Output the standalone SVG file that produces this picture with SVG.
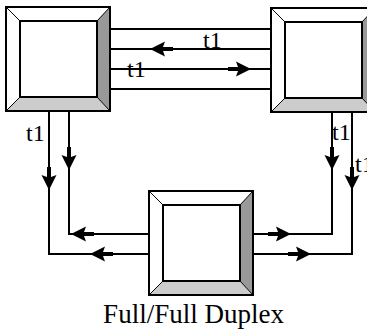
<svg xmlns="http://www.w3.org/2000/svg" xmlns:xlink="http://www.w3.org/1999/xlink" width="367" height="333" viewBox="0 0 367 333">
<style>
.wire{fill:none;stroke:#000;stroke-width:2}
.lbl{font-family:"Liberation Serif","Times New Roman",serif;font-size:24px;fill:#000}
.title{font-family:"Liberation Serif","Times New Roman",serif;font-size:27px;fill:#000}
.edge{stroke:#000;stroke-width:2;fill:none}
.diag{stroke:#000;stroke-width:1}
.ah{fill:#000}
</style>
<defs>
<g id="box">
<rect x="0" y="0" width="104" height="104" fill="#fff"/>
<polygon points="0,0 104,0 91,14 14,14" fill="#fff"/>
<polygon points="0,0 14,14 14,90 0,104" fill="#fff"/>
<polygon points="104,0 104,104 91,90 91,14" fill="#999"/>
<polygon points="0,104 14,90 91,90 104,104" fill="#ccc"/>
<line class="diag" x1="0" y1="0" x2="14" y2="14"/>
<line class="diag" x1="104" y1="0" x2="91" y2="14"/>
<line class="diag" x1="0" y1="104" x2="14" y2="90"/>
<line class="diag" x1="104" y1="104" x2="91" y2="90"/>
<rect class="edge" x="14" y="14" width="77" height="76" fill="#fff"/>
<rect class="edge" x="0" y="0" width="104" height="104"/>
</g>
<path id="arr" class="ah" d="M0,0 L-15,-7.5 L-13,-2 L-23,-2 L-23,2 L-13,2 L-15,7.5 Z"/>
</defs>
<rect width="367" height="333" fill="#fff"/>
<g id="connectors">
<line class="wire" x1="110" y1="29" x2="271" y2="29"/>
<line class="wire" x1="110" y1="49" x2="271" y2="49"/>
<line class="wire" x1="110" y1="69" x2="271" y2="69"/>
<line class="wire" x1="110" y1="89" x2="271" y2="89"/>
<path class="wire" d="M49,111 V254 H149"/>
<path class="wire" d="M69,111 V234 H149"/>
<path class="wire" d="M332,111 V234 H252"/>
<path class="wire" d="M352,111 V254 H252"/>
<use xlink:href="#arr" transform="translate(150,49) rotate(180)"/>
<use xlink:href="#arr" transform="translate(251,69)"/>
<use xlink:href="#arr" transform="translate(69,170) rotate(90)"/>
<use xlink:href="#arr" transform="translate(49,190) rotate(90)"/>
<use xlink:href="#arr" transform="translate(332,170) rotate(90)"/>
<use xlink:href="#arr" transform="translate(352,190) rotate(90)"/>
<use xlink:href="#arr" transform="translate(71,234) rotate(180)"/>
<use xlink:href="#arr" transform="translate(90,254) rotate(180)"/>
<use xlink:href="#arr" transform="translate(291,234)"/>
<use xlink:href="#arr" transform="translate(311,254)"/>
<text class="lbl" x="203" y="48">t1</text>
<text class="lbl" x="127" y="77">t1</text>
<text class="lbl" x="26" y="141">t1</text>
<text class="lbl" x="332" y="140">t1</text>
<text class="lbl" x="355" y="172">t1</text>
</g>
<g id="node-left" transform="translate(6,7)"><use xlink:href="#box"/></g>
<g id="node-right" transform="translate(271,8)"><use xlink:href="#box"/></g>
<g id="node-bottom" transform="translate(149,191)"><use xlink:href="#box"/></g>
<text class="title" x="193.5" y="323" text-anchor="middle">Full/Full Duplex</text>
</svg>
